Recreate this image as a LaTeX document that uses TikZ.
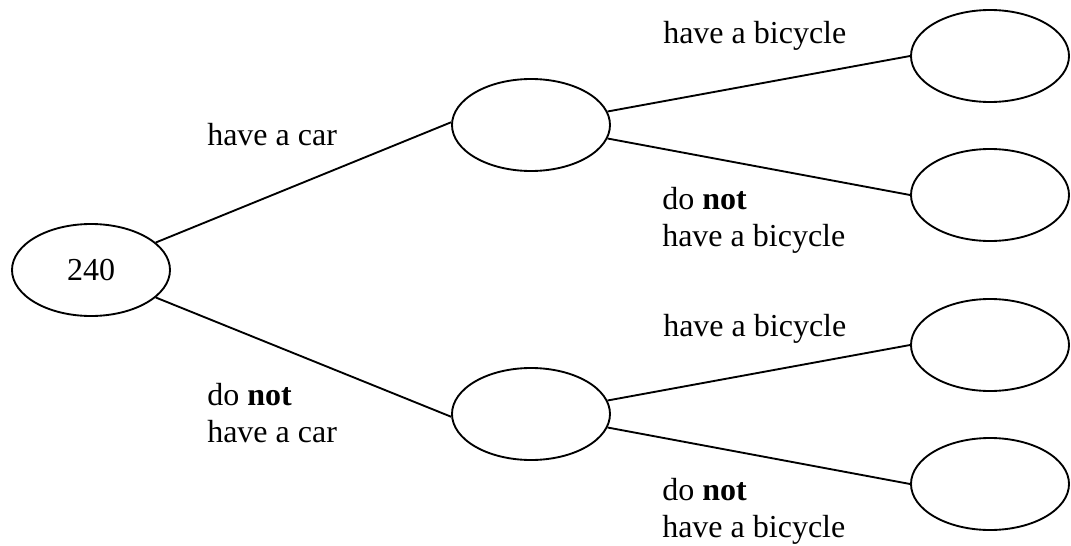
\documentclass[tikz,border=0pt]{standalone}
\usepackage{fontspec}
\setmainfont{Liberation Serif}
\usetikzlibrary{shapes.geometric}
\begin{document}
\begin{tikzpicture}[x=0.75pt,y=-0.75pt,
  oval/.style={draw, ellipse, line width=1.4pt, minimum width=118.5pt, minimum height=69pt, inner sep=0pt, font=\fontsize{24}{28}\selectfont},
  branch/.style={line width=1.4pt},
  lbl/.style={anchor=base west, inner sep=0pt, font=\fontsize{24}{28}\selectfont}]
\useasboundingbox (0,0) rectangle (1071,546);
\node[oval] (root) at (91,270) {240};
\node[oval] (m1) at (531,125) {};
\node[oval] (m2) at (531,414) {};
\node[oval] (r1) at (990,56) {};
\node[oval] (r2) at (990,195) {};
\node[oval] (r3) at (990,345) {};
\node[oval] (r4) at (990,484) {};
\draw[branch] (root.23) -- (m1.178);
\draw[branch] (root.-23) -- (m2.182);
\draw[branch] (m1.10) -- (r1.west);
\draw[branch] (m1.-10) -- (r2.west);
\draw[branch] (m2.10) -- (r3.west);
\draw[branch] (m2.-10) -- (r4.west);
\node[lbl] (lcar) at (207,145) {have a car};
\node[lbl] (lnocar) at (207,405) {\begin{tabular}[t]{@{}l@{}}do \textbf{not}\\have a car\end{tabular}};
\node[lbl] (lb1) at (663,43) {have a bicycle};
\node[lbl] (lnb1) at (662,209) {\begin{tabular}[t]{@{}l@{}}do \textbf{not}\\have a bicycle\end{tabular}};
\node[lbl] (lb2) at (663,336) {have a bicycle};
\node[lbl] (lnb2) at (662,500) {\begin{tabular}[t]{@{}l@{}}do \textbf{not}\\have a bicycle\end{tabular}};
\end{tikzpicture}
\end{document}
